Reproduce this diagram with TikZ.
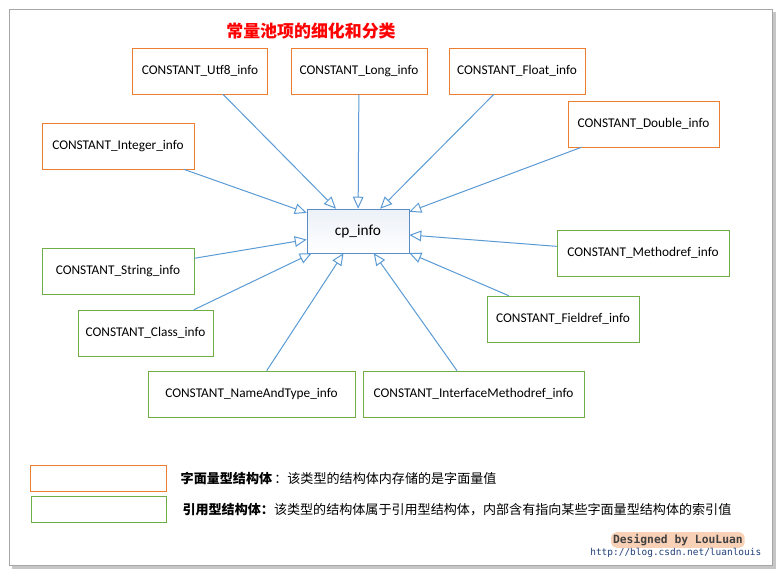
\documentclass[tikz,border=0pt]{standalone}
\usepackage{xcolor}
\definecolor{LitOrange}{HTML}{ED7D31}
\definecolor{RefGreen}{HTML}{70AD47}
\definecolor{LinkBlue}{HTML}{5B9BD5}
\definecolor{CpBorder}{HTML}{5B8CC4}
\definecolor{UrlBlue}{HTML}{1F3E7A}
\usepackage{fontspec}
\setmainfont{Carlito}
\newfontfamily\cjk{Noto Sans CJK SC}
\newfontfamily\codefont{DejaVu Sans Mono}
\usepackage{tikz}
\usetikzlibrary{arrows.meta,positioning,shadows}

\begin{document}
\begin{tikzpicture}[x=0.75pt,y=-0.75pt,
  kbox/.style={draw=LitOrange,fill=white,minimum height=34.5pt,inner sep=0pt,font=\fontsize{10}{12}\selectfont},
  rbox/.style={kbox,draw=RefGreen},
  link/.style={draw=LinkBlue,line width=0.75pt,-{Triangle[open,length=9pt,width=8pt]}},
  legend/.style={minimum width=101.5pt,minimum height=20pt,inner sep=0pt,line width=0.75pt}]
\useasboundingbox (0,0) rectangle (781,574);
% sheet with shadow
\fill[gray!45] (12,12) rectangle (776,569);
\filldraw[fill=white,draw=gray!70] (9,9) rectangle (772,565);
\node[text=red,font=\cjk\bfseries\fontsize{12.7}{14}\selectfont] (title) at (311,31) {常量池项的细化和分类};
% centre
\node[draw=CpBorder,top color=CpBorder!12,bottom color=white,minimum width=76.5pt,minimum height=33pt,inner sep=0pt,font=\fontsize{11.5}{13}\selectfont] (cp) at (358,231) {cp\_info};
% literal entries
\node[kbox,minimum width=101pt] (utf8) at (200,71) {CONSTANT\_Utf8\_info};
\node[kbox,minimum width=102pt] (long) at (359,71) {CONSTANT\_Long\_info};
\node[kbox,minimum width=102pt] (float) at (517,71) {CONSTANT\_Float\_info};
\node[kbox,minimum width=113pt] (double) at (643.5,124) {CONSTANT\_Double\_info};
\node[kbox,minimum width=114pt] (integer) at (118,146) {CONSTANT\_Integer\_info};
% reference entries
\node[rbox,minimum width=114pt] (string) at (118,271) {CONSTANT\_String\_info};
\node[rbox,minimum width=129pt] (methodref) at (643,253) {CONSTANT\_Methodref\_info};
\node[rbox,minimum width=101pt] (class) at (145.5,333) {CONSTANT\_Class\_info};
\node[rbox,minimum width=114pt] (fieldref) at (563,319) {CONSTANT\_Fieldref\_info};
\node[rbox,minimum width=155pt] (nametype) at (251.5,394) {CONSTANT\_NameAndType\_info};
\node[rbox,minimum width=166pt] (imethodref) at (473.5,394) {CONSTANT\_InterfaceMethodref\_info};
\foreach \src in {utf8,long,float,double,integer,string,methodref,class,fieldref,nametype,imethodref}
  \draw[link] (\src) -- (cp);
% legend
\node[legend,draw=LitOrange] (litkey) at (98.5,478.5) {};
\node[legend,draw=RefGreen] (refkey) at (99,509.5) {};
\node[right=7pt of litkey,font=\cjk\fontsize{9.8}{12}\selectfont] (littext) {{\bfseries 字面量型结构体}\,：该类型的结构体内存储的是字面量值};
\node[right=8pt of refkey,font=\cjk\fontsize{9.8}{12}\selectfont] (reftext) {{\bfseries 引用型结构体：}该类型的结构体属于引用型结构体，内部含有指向某些字面量型结构体的索引值};
% signature
\node[fill=LitOrange!35,rounded corners=4pt,inner sep=1.5pt,text=black!75,font=\codefont\bfseries\fontsize{8.5}{10}\selectfont,anchor=east] (sign) at (745,540) {Designed by LouLuan};
\node[text=UrlBlue,font=\codefont\fontsize{7.1}{9}\selectfont,anchor=east] (url) at (766,553) {http://blog.csdn.net/luanlouis};
\end{tikzpicture}
\end{document}
